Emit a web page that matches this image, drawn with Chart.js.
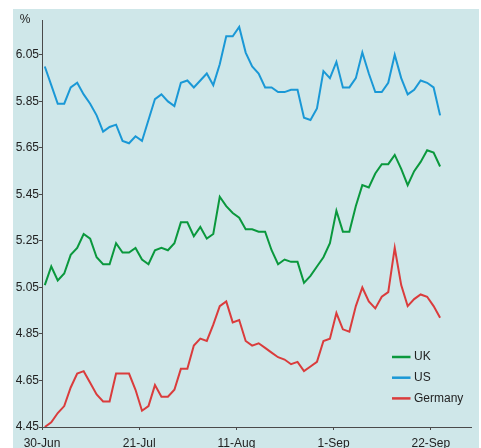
<!DOCTYPE html>
<html>
<head>
<meta charset="utf-8">
<script src="https://cdn.jsdelivr.net/npm/chart.js@4/dist/chart.umd.min.js"></script>
<style>
  html, body { margin: 0; padding: 0; background: #fff; }
  #wrap { width: 481px; height: 448px; position: relative; }
</style>
</head>
<body>
<div id="wrap"><canvas id="yields" width="481" height="448"></canvas></div>
<script>
// business days, 30-Jun to 30-Sep
const dates = [
  '30-Jun', '1-Jul', '2-Jul', '3-Jul', '4-Jul',
  '7-Jul', '8-Jul', '9-Jul', '10-Jul', '11-Jul',
  '14-Jul', '15-Jul', '16-Jul', '17-Jul', '18-Jul',
  '21-Jul', '22-Jul', '23-Jul', '24-Jul', '25-Jul',
  '28-Jul', '29-Jul', '30-Jul', '31-Jul', '1-Aug',
  '4-Aug', '5-Aug', '6-Aug', '7-Aug', '8-Aug',
  '11-Aug', '12-Aug', '13-Aug', '14-Aug', '15-Aug',
  '18-Aug', '19-Aug', '20-Aug', '21-Aug', '22-Aug',
  '25-Aug', '26-Aug', '27-Aug', '28-Aug', '29-Aug',
  '1-Sep', '2-Sep', '3-Sep', '4-Sep', '5-Sep',
  '8-Sep', '9-Sep', '10-Sep', '11-Sep', '12-Sep',
  '15-Sep', '16-Sep', '17-Sep', '18-Sep', '19-Sep',
  '22-Sep', '23-Sep', '24-Sep', '25-Sep', '26-Sep',
  '29-Sep', '30-Sep'
];
const tickDates = ['30-Jun', '21-Jul', '11-Aug', '1-Sep', '22-Sep'];
const yTicks = [4.45, 4.65, 4.85, 5.05, 5.25, 5.45, 5.65, 5.85, 6.05];

const ukValues = [
  5.06, 5.14, 5.08, 5.11, 5.19, 5.22, 5.28, 5.26, 5.18, 5.15,
  5.15, 5.24, 5.20, 5.20, 5.22, 5.17, 5.15, 5.21, 5.22, 5.21,
  5.24, 5.33, 5.33, 5.27, 5.31, 5.26, 5.28, 5.44, 5.40, 5.37,
  5.35, 5.30, 5.30, 5.29, 5.29, 5.21, 5.15, 5.17, 5.16, 5.16,
  5.07, 5.10, 5.14, 5.18, 5.24, 5.38, 5.29, 5.29, 5.40, 5.49,
  5.48, 5.54, 5.58, 5.58, 5.62, 5.56, 5.49, 5.55, 5.59, 5.64,
  5.63, 5.57
];
const usValues = [
  6.00, 5.92, 5.84, 5.84, 5.91, 5.93, 5.88, 5.84, 5.79, 5.72,
  5.74, 5.75, 5.68, 5.67, 5.70, 5.68, 5.77, 5.86, 5.88, 5.85,
  5.83, 5.93, 5.94, 5.91, 5.94, 5.97, 5.92, 6.01, 6.13, 6.13,
  6.17, 6.06, 6.00, 5.97, 5.91, 5.91, 5.89, 5.89, 5.90, 5.90,
  5.78, 5.77, 5.82, 5.98, 5.95, 6.02, 5.91, 5.91, 5.95, 6.06,
  5.97, 5.89, 5.89, 5.93, 6.05, 5.95, 5.88, 5.90, 5.94, 5.93,
  5.91, 5.79
];
const germanyValues = [
  4.45, 4.47, 4.51, 4.54, 4.62, 4.68, 4.69, 4.64, 4.59, 4.56,
  4.56, 4.68, 4.68, 4.68, 4.61, 4.52, 4.54, 4.63, 4.58, 4.58,
  4.61, 4.70, 4.70, 4.80, 4.83, 4.82, 4.89, 4.97, 4.99, 4.90,
  4.91, 4.82, 4.80, 4.81, 4.79, 4.77, 4.75, 4.74, 4.72, 4.73,
  4.69, 4.71, 4.73, 4.82, 4.83, 4.94, 4.87, 4.86, 4.97, 5.05,
  4.99, 4.96, 5.01, 5.03, 5.22, 5.06, 4.97, 5.00, 5.02, 5.01,
  4.97, 4.92
];

// date ticks sit a little before each day's point (daily close)
const tickLead = 0.43;

const FONT = "'Liberation Sans', Arial, sans-serif";
const TEXT = '#222';
const AXIS = '#4a4a4a';

function toPoints(values) {
  return values.map((v, i) => ({ x: dates.indexOf(dates[i]), y: v }));
}

// panel background + the "%" unit label
const panel = {
  id: 'panel',
  beforeDraw(chart) {
    const ctx = chart.ctx;
    ctx.save();
    ctx.fillStyle = '#ffffff';
    ctx.fillRect(0, 0, chart.width, chart.height);
    ctx.fillStyle = '#cfe7e9';
    ctx.fillRect(13, 9, 466, chart.height - 9);
    ctx.fillStyle = TEXT;
    ctx.font = '12px ' + FONT;
    ctx.textAlign = 'center';
    ctx.textBaseline = 'middle';
    ctx.fillText('%', 25, 20);
    ctx.restore();
  }
};

// legend sits inside the plot, bottom right
const insideLegend = {
  id: 'insideLegend',
  afterDraw(chart) {
    const ctx = chart.ctx;
    ctx.save();
    ctx.font = '12px ' + FONT;
    ctx.textBaseline = 'middle';
    chart.data.datasets.forEach((ds, i) => {
      const y = 357 + i * 20.7;
      ctx.strokeStyle = ds.borderColor;
      ctx.lineWidth = 2.5;
      ctx.beginPath();
      ctx.moveTo(392, y);
      ctx.lineTo(410.5, y);
      ctx.stroke();
      ctx.fillStyle = TEXT;
      ctx.fillText(ds.label, 414, y);
    });
    ctx.restore();
  }
};

const chart = new Chart(document.getElementById('yields'), {
  type: 'line',
  data: {
    datasets: [
      { label: 'UK', data: toPoints(ukValues), borderColor: '#0a983d' },
      { label: 'US', data: toPoints(usValues), borderColor: '#1a98d6' },
      { label: 'Germany', data: toPoints(germanyValues), borderColor: '#da3c3c' }
    ]
  },
  options: {
    responsive: false,
    animation: false,
    devicePixelRatio: 1,
    layout: { padding: { top: 20, right: 10, left: 0, bottom: 0 } },
    elements: {
      line: { borderWidth: 2, tension: 0 },
      point: { radius: 0 }
    },
    plugins: {
      legend: { display: false },
      tooltip: { enabled: false }
    },
    scales: {
      x: {
        type: 'linear',
        min: -tickLead,
        max: 65.77,
        afterBuildTicks(scale) {
          scale.ticks = tickDates.map(d => ({ value: dates.indexOf(d) - tickLead }));
        },
        afterFit(scale) { scale.height = 21; },
        grid: { drawOnChartArea: false, drawTicks: true, tickLength: 3, color: AXIS },
        border: { display: true, color: AXIS, width: 1 },
        ticks: {
          autoSkip: false,
          maxRotation: 0,
          padding: 6,
          color: TEXT,
          font: { family: FONT, size: 12 },
          callback(value, index) { return tickDates[index]; }
        }
      },
      y: {
        min: 4.45,
        max: 6.2,
        afterBuildTicks(scale) {
          scale.ticks = yTicks.map(v => ({ value: v }));
        },
        afterFit(scale) { scale.width = 42; },
        grid: { drawOnChartArea: false, drawTicks: true, tickLength: 3, color: AXIS },
        border: { display: true, color: AXIS, width: 1 },
        ticks: {
          padding: 0,
          color: TEXT,
          font: { family: FONT, size: 12 },
          callback(value) { return value.toFixed(2); }
        }
      }
    }
  },
  plugins: [panel, insideLegend]
});
</script>
</body>
</html>
